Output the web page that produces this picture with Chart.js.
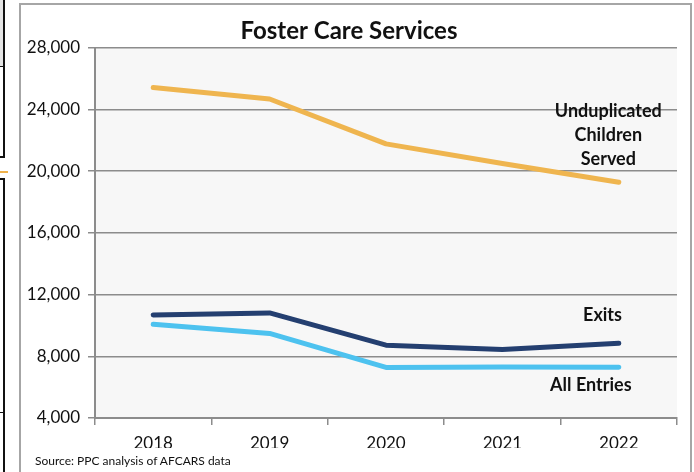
<!DOCTYPE html>
<html>
<head>
<meta charset="utf-8">
<script src="https://cdn.jsdelivr.net/npm/chart.js@4"></script>
<style>
  body { margin: 0; background: #fff; width: 694px; height: 472px; overflow: hidden; position: relative; font-family: Lato, sans-serif; }
  #frame { position: absolute; left: 19px; top: 3px; width: 669px; height: 480px; border: 2px solid #a6a6a6; background: #fff; }
  #wrap { position: absolute; left: 21px; top: 5px; width: 668px; height: 467px; }
  #source { position: absolute; left: 35px; top: 453px; font-size: 12px; color: #111; }
  .edge { position: absolute; background: #111; }
</style>
</head>
<body>
<!-- bits of the surrounding page on the left -->
<div class="edge" style="left:0;top:0;width:4px;height:67px;background:#e4e4e4"></div>
<div class="edge" style="left:3px;top:0;width:2px;height:158px"></div>
<div class="edge" style="left:0;top:66px;width:4px;height:1px"></div>
<div class="edge" style="left:0;top:156px;width:4px;height:2px"></div>
<div class="edge" style="left:0;top:171px;width:8px;height:2px;background:#f0b24b"></div>
<div class="edge" style="left:3px;top:178px;width:2px;height:294px"></div>
<div class="edge" style="left:0;top:178px;width:4px;height:2px"></div>
<div class="edge" style="left:0;top:412px;width:4px;height:1px"></div>
<div id="frame"></div>
<div id="wrap"><canvas id="fosterChart"></canvas></div>
<div id="source">Source: PPC analysis of AFCARS data</div>
<script>
var years = ["2018", "2019", "2020", "2021", "2022"];
var unduplicated = [25430, 24680, 21770, 20500, 19280];
var exits = [10680, 10810, 8720, 8440, 8850];
var allEntries = [10080, 9480, 7280, 7300, 7290];

var yTicks = [4000, 8000, 12000, 16000, 20000, 24000, 28000];

// series labels, placed in data units (category index, value)
var seriesLabels = [
    { lines: ["Unduplicated", "Children", "Served"], x: 3.91, y: 23920 },
    { lines: ["Exits"], x: 3.86, y: 10660 },
    { lines: ["All Entries"], x: 3.76, y: 6130 }
];

var plotBg = {
    id: 'plotBg',
    beforeDraw: function(chart) {
        var a = chart.chartArea, ctx = chart.ctx;
        ctx.save();
        ctx.fillStyle = '#f7f7f7';
        ctx.fillRect(a.left, a.top, a.right - a.left, a.bottom - a.top);
        ctx.restore();
    }
};

var lineLabels = {
    id: 'lineLabels',
    afterDatasetsDraw: function(chart) {
        var ctx = chart.ctx, xs = chart.scales.x, ys = chart.scales.y;
        ctx.save();
        ctx.font = 'bold 18px Lato';
        ctx.fillStyle = '#111';
        ctx.textAlign = 'center';
        ctx.textBaseline = 'middle';
        seriesLabels.forEach(function(l) {
            var px = xs.getPixelForValue(l.x);
            var py = ys.getPixelForValue(l.y);
            l.lines.forEach(function(t, i) {
                ctx.fillText(t, px, py + i * 24);
            });
        });
        ctx.restore();
    }
};

function lineSet(label, data, color) {
    return {
        label: label,
        data: data,
        borderColor: color,
        backgroundColor: color,
        borderWidth: 5,
        borderCapStyle: 'round',
        borderJoinStyle: 'round',
        pointRadius: 0,
        tension: 0,
        fill: false
    };
}

var ctx = document.getElementById('fosterChart').getContext('2d');
var fosterChart = new Chart(ctx, {
    type: 'line',
    data: {
        labels: years,
        datasets: [
            lineSet("Unduplicated Children Served", unduplicated, '#efb54f'),
            lineSet("Exits", exits, '#243f70'),
            lineSet("All Entries", allEntries, '#4dc2ef')
        ]
    },
    plugins: [plotBg, lineLabels],
    options: {
        responsive: true,
        maintainAspectRatio: false,
        animation: false,
        layout: { padding: { left: 0, right: 12, top: 0, bottom: 24 } },
        plugins: {
            legend: { display: false },
            tooltip: { enabled: false },
            title: {
                display: true,
                text: 'Foster Care Services',
                color: '#111',
                font: { family: 'Lato', size: 24, weight: 'bold' },
                padding: { top: 12, bottom: 2 }
            }
        },
        scales: {
            x: {
                offset: true,
                grid: { offset: true, drawOnChartArea: false, drawTicks: true, tickLength: 7, color: '#8c8c8c', lineWidth: 1.5 },
                border: { color: '#8c8c8c', width: 2 },
                ticks: { color: '#111', font: { family: 'Lato', size: 17 }, padding: 8, maxRotation: 0 },
                afterFit: function(s) { s.height = 30; }
            },
            y: {
                min: 4000,
                max: 28000,
                afterBuildTicks: function(s) { s.ticks = yTicks.map(function(v) { return { value: v }; }); },
                grid: { color: '#8c8c8c', lineWidth: 1.5, tickLength: 7 },
                border: { color: '#8c8c8c', width: 2 },
                ticks: {
                    color: '#111',
                    font: { family: 'Lato', size: 17 },
                    padding: 8,
                    callback: function(v) { return v.toLocaleString('en-US'); }
                },
                afterFit: function(s) { s.width = 74; }
            }
        }
    }
});
</script>
</body>
</html>
